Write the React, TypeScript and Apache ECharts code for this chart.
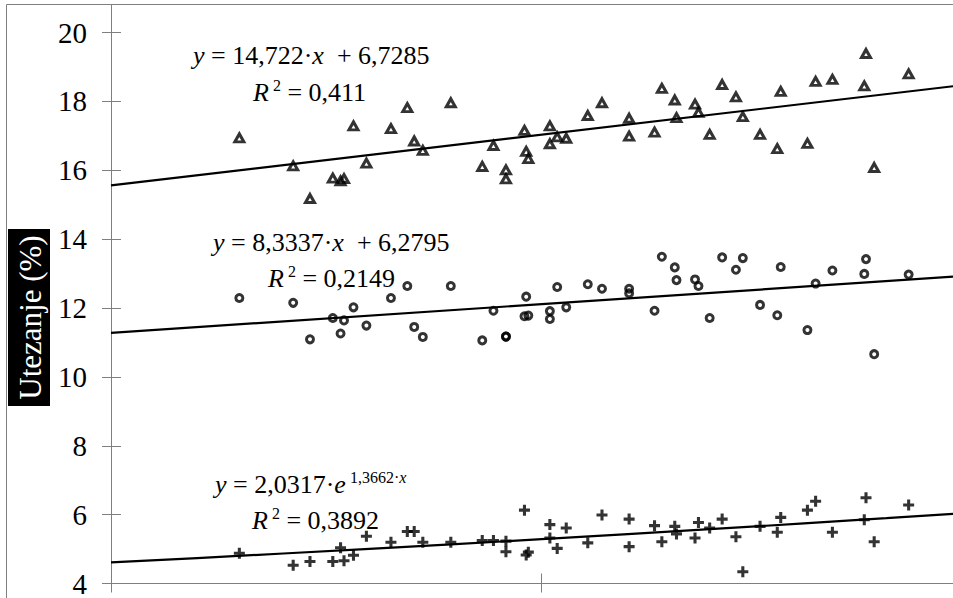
import { useEffect, useRef } from "react";
import * as echarts from "echarts";

const FONT = "Liberation Serif";

// shared x values of the samples
const xValues = [
  0.6298, 0.6423, 0.6462, 0.6515, 0.6533, 0.6541, 0.6563, 0.6593, 0.665, 0.6688, 0.6704, 0.6724,
  0.6789, 0.6862, 0.6888, 0.6917, 0.6917, 0.696, 0.6964, 0.6969, 0.7019, 0.7019, 0.7036, 0.7057,
  0.7107, 0.714, 0.7203, 0.7203, 0.7262, 0.7279, 0.7309, 0.7313, 0.7356, 0.7364, 0.739, 0.7419,
  0.7451, 0.7467, 0.7507, 0.7547, 0.7555, 0.7617, 0.7636, 0.7675, 0.7749, 0.7753, 0.7772, 0.7852,
];

const triangleY = [
  16.94, 16.13, 15.18, 15.77, 15.69, 15.76, 17.29, 16.21, 17.21, 17.82, 16.85, 16.58,
  17.96, 16.11, 16.72, 16.01, 15.75, 17.16, 16.55, 16.34, 17.29, 16.77, 16.97, 16.93,
  17.59, 17.96, 17.51, 16.99, 17.11, 18.38, 18.04, 17.53, 17.92, 17.68, 17.04, 18.49,
  18.13, 17.56, 17.04, 16.63, 18.29, 16.78, 18.58, 18.64, 18.45, 19.39, 16.08, 18.8,
];

const circleY = [
  12.29, 12.15, 11.09, 11.71, 11.26, 11.64, 12.02, 11.49, 12.29, 12.64, 11.45, 11.16,
  12.64, 11.06, 11.92, 11.17, 11.17, 11.76, 12.33, 11.78, 11.91, 11.68, 12.61, 12.02,
  12.69, 12.56, 12.56, 12.43, 11.92, 13.49, 13.18, 12.81, 12.83, 12.64, 11.71, 13.47,
  13.11, 13.45, 12.09, 11.79, 13.19, 11.36, 12.71, 13.09, 12.99, 13.42, 10.66, 12.97,
];

const crossY = [
  4.88, 4.53, 4.64, 4.64, 5.04, 4.66, 4.82, 5.37, 5.2, 5.51, 5.51, 5.2,
  5.2, 5.25, 5.25, 5.23, 4.92, 6.13, 4.83, 4.91, 5.71, 5.32, 5.02, 5.61,
  5.18, 5.99, 5.87, 5.07, 5.68, 5.21, 5.66, 5.44, 5.32, 5.77, 5.61, 5.87,
  5.36, 4.34, 5.66, 5.49, 5.92, 6.13, 6.39, 5.49, 5.85, 6.49, 5.21, 6.28,
];

// trendline equations as printed on the chart
const trendTriangle = { slope: 14.722, intercept: 6.7285 };
const trendCircle = { slope: 8.3337, intercept: 6.2795 };
const trendCross = { a: 2.0317, b: 1.3662 };
const trendXRange = [0.6, 0.8];
const expSampleX = [0.6, 0.62, 0.64, 0.66, 0.68, 0.7, 0.72, 0.74, 0.76, 0.78, 0.8];

const yTicks = [4, 6, 8, 10, 12, 14, 16, 18, 20];
const xTicks = [0.6, 0.7];
const xMin = 0.6;
const xMax = 0.7955;
const yMin = 4;
const yMax = 20.814;

const AXIS_GRAY = "#7f7f7f";

const rich = {
  n: { fontFamily: FONT, fontSize: 26, lineHeight: 30, fill: "#000" },
  i: { fontFamily: FONT, fontSize: 26, lineHeight: 30, fontStyle: "italic", fill: "#000" },
  sup: { fontFamily: FONT, fontSize: 16, lineHeight: 17, verticalAlign: "top", fill: "#000" },
  supi: { fontFamily: FONT, fontSize: 16, lineHeight: 17, verticalAlign: "top", fontStyle: "italic", fill: "#000" },
};

function eqText(x: number, y: number, text: string) {
  return {
    type: "text",
    x,
    y,
    z: 10,
    style: {
      text,
      rich,
      fill: "#000",
      fontFamily: FONT,
      fontSize: 26,
      align: "left",
      textAlign: "left",
      verticalAlign: "middle",
      textVerticalAlign: "middle",
    },
  };
}

export default function App() {
  const ref = useRef<HTMLDivElement>(null);

  useEffect(() => {
    const chart = echarts.init(ref.current!, null, { renderer: "svg" });

    const triData = xValues.map((x, i) => [x, triangleY[i]]);
    const cirData = xValues.map((x, i) => [x, circleY[i]]);
    const crossData = xValues.map((x, i) => [x, crossY[i]]);
    const lin = (t: { slope: number; intercept: number }) =>
      trendXRange.map((x) => [x, t.slope * x + t.intercept]);
    const expData = expSampleX.map((x) => [x, trendCross.a * Math.exp(trendCross.b * x)]);

    const markerStyle = { color: "rgba(255,255,255,0)", borderColor: "#000", borderWidth: 3 };
    const trendStyle = { color: "#000", width: 2.2, type: "solid" as const };

    const option: any = {
      animation: false,
      backgroundColor: "#fff",
      grid: { left: 111, top: 4.5, right: 0, bottom: 5, containLabel: false },
      xAxis: [
        {
          type: "value",
          min: xMin,
          max: xMax,
          position: "bottom",
          axisLine: { show: true, onZero: false, lineStyle: { color: AXIS_GRAY, width: 1 } },
          axisTick: { show: true, inside: true, length: 10, customValues: xTicks, lineStyle: { color: AXIS_GRAY } },
          axisLabel: { show: false },
          splitLine: { show: false },
        },
        {
          type: "value",
          min: xMin,
          max: xMax,
          position: "bottom",
          axisLine: { show: false, onZero: false },
          axisTick: { show: true, inside: false, length: 9, customValues: xTicks, lineStyle: { color: AXIS_GRAY } },
          axisLabel: { show: false },
          splitLine: { show: false },
        },
      ],
      yAxis: [
        {
          type: "value",
          min: yMin,
          max: yMax,
          position: "left",
          axisLine: { show: true, onZero: false, lineStyle: { color: AXIS_GRAY, width: 1 } },
          axisTick: { show: true, inside: true, length: 10, customValues: yTicks, lineStyle: { color: AXIS_GRAY } },
          axisLabel: {
            show: true,
            customValues: yTicks,
            fontFamily: FONT,
            fontSize: 29,
            color: "#000",
            margin: 24,
          },
          splitLine: { show: false },
        },
        {
          type: "value",
          min: yMin,
          max: yMax,
          position: "left",
          axisLine: { show: false, onZero: false },
          axisTick: { show: true, inside: false, length: 9, customValues: yTicks, lineStyle: { color: AXIS_GRAY } },
          axisLabel: { show: false },
          splitLine: { show: false },
        },
      ],
      series: [
        {
          type: "scatter",
          name: "triangles",
          data: triData,
          symbol: "triangle",
          symbolSize: [9, 8],
          itemStyle: markerStyle,
          z: 3,
        },
        {
          type: "scatter",
          name: "circles",
          data: cirData,
          symbol: "circle",
          symbolSize: 7,
          itemStyle: markerStyle,
          z: 3,
        },
        {
          type: "scatter",
          name: "crosses",
          data: crossData,
          symbol: "path://M3.6,0 H6.4 V3.6 H10 V6.4 H6.4 V10 H3.6 V6.4 H0 V3.6 H3.6 Z",
          symbolSize: 11,
          itemStyle: { color: "#000" },
          z: 3,
        },
        { type: "line", data: lin(trendTriangle), showSymbol: false, lineStyle: trendStyle, z: 4, silent: true },
        { type: "line", data: lin(trendCircle), showSymbol: false, lineStyle: trendStyle, z: 4, silent: true },
        { type: "line", data: expData, showSymbol: false, smooth: false, lineStyle: trendStyle, z: 4, silent: true },
      ],
      graphic: [
        {
          type: "rect",
          z: -10,
          shape: { x: 6.5, y: 4.5, width: 1200, height: 800 },
          style: { fill: "none", stroke: AXIS_GRAY, lineWidth: 1 },
        },
        {
          type: "rect",
          z: 5,
          shape: { x: 8, y: 229, width: 42, height: 177 },
          style: { fill: "#000" },
        },
        {
          type: "text",
          z: 6,
          x: 30,
          y: 317.5,
          rotation: Math.PI / 2,
          style: {
            text: "Utezanje (%)",
            fill: "#fff",
            fontFamily: FONT,
            fontSize: 31,
            align: "center",
            textAlign: "center",
            verticalAlign: "middle",
            textVerticalAlign: "middle",
          },
        },
        eqText(193, 55, "{i|y}{n| = 14,722·}{i|x}{n|  + 6,7285}"),
        eqText(253, 92, "{i|R}{sup| 2}{n| = 0,411}"),
        eqText(213, 242, "{i|y}{n| = 8,3337·}{i|x}{n|  + 6,2795}"),
        eqText(268, 278, "{i|R}{sup| 2}{n| = 0,2149}"),
        eqText(215, 484, "{i|y}{n| = 2,0317·}{i|e}{sup| 1,3662·}{supi|x}"),
        eqText(252, 520, "{i|R}{sup| 2}{n| = 0,3892}"),
      ],
    };

    chart.setOption(option);
    return () => chart.dispose();
  }, []);

  return (
    <div
      ref={ref}
      style={{ position: "absolute", left: 0, top: 0, width: 953, height: 598, background: "#fff" }}
    />
  );
}
